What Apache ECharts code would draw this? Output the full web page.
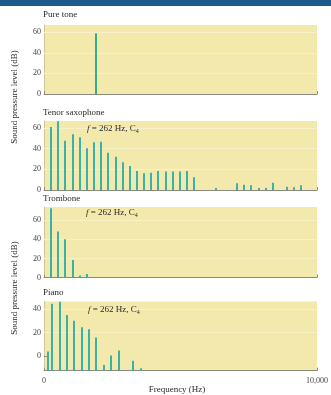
<!DOCTYPE html>
<html><head><meta charset="utf-8">
<script src="https://cdn.jsdelivr.net/npm/echarts@6/dist/echarts.min.js"></script>
<style>html,body{margin:0;padding:0;background:#fff}#c{width:331px;height:395px}</style>
</head><body><div id="c"></div>
<script>
// ---------- data ----------
const panelTitles = ['Pure tone', 'Tenor saxophone', 'Trombone', 'Piano'];
const noteText = '{i|f} = 262 Hz, C{s|4}';
const yAxisTitle = 'Sound pressure level (dB)';
const xAxisTitle = 'Frequency (Hz)';
const xTickValues = [0, 10000];
const xTickLabels = ['0', '10,000'];
const yTicksUpper = [0, 20, 40, 60];
const yTicksPiano = [0, 20, 40];

const pureFreq = [1900];
const pureLevel = [58.9];

const saxFreq = [262, 524, 786, 1048, 1310, 1572, 1834, 2096, 2358, 2620, 2882, 3144, 3406, 3668, 3930,
  4192, 4454, 4716, 4978, 5240, 5502, 6288, 7074, 7336, 7598, 7860, 8122, 8384, 8908, 9170, 9432];
const saxLevel = [61, 66.5, 47.6, 53.8, 50.9, 40.3, 46.1, 46.7, 36, 32.2, 26.8, 23.2, 18.4, 16.1, 16.7,
  18.4, 18, 18, 18, 18.4, 12.3, 1.9, 6.5, 5.1, 4.5, 1.9, 1.9, 7.1, 3.2, 2.6, 4.5];

const tromFreq = [262, 524, 786, 1048, 1310, 1572];
const tromLevel = [72.8, 48.2, 40.2, 18.4, 2.1, 3.7];

const pianoFreq = [140, 280, 570, 830, 1100, 1380, 1650, 1910, 2200, 2460, 2740, 3270, 3550];
const pianoLevel = [3.7, 44.5, 46.5, 35, 30, 24.6, 22.9, 15.7, -7.7, 0.3, 4.6, -4, -10.6];

// ---------- layout / style ----------
const panels = [
  { freq: pureFreq, level: pureLevel, top: 25, height: 69, min: 0, max: 67, ticks: yTicksUpper, color: '#2fae8e' },
  { freq: saxFreq, level: saxLevel, top: 121, height: 69, min: 0, max: 66.7, ticks: yTicksUpper, color: '#38b3a8' },
  { freq: tromFreq, level: tromLevel, top: 207, height: 70.5, min: 0, max: 74, ticks: yTicksUpper, color: '#38b3a8' },
  { freq: pianoFreq, level: pianoLevel, top: 301.5, height: 69.2, min: -12.6, max: 46.5, ticks: yTicksPiano, color: '#38b3a8' }
];
const serif = 'Liberation Serif';
const bg = '#f4e9ad';
const gridLineColor = '#f8f0c6';

function zip(a, b) { return a.map((v, i) => [v, b[i]]); }

function renderBar(color) {
  return function (params, api) {
    const cs = params.coordSys;
    const p = api.coord([api.value(0), api.value(1)]);
    const bottom = cs.y + cs.height;
    return { type: 'rect', shape: { x: Math.round(p[0]) - 1, y: p[1], width: 2, height: bottom - p[1] },
      style: { fill: color } };
  };
}

const grid = [], xAxis = [], yAxis = [], series = [];
panels.forEach((p, i) => {
  const last = i === panels.length - 1;
  grid.push({ left: 44, right: 14, top: p.top, height: p.height, show: true, backgroundColor: bg, borderWidth: 0 });
  xAxis.push({
    gridIndex: i, type: 'value', min: 0, max: 10000,
    axisLine: { show: true, onZero: false, lineStyle: { color: '#8a8a80', width: 1 } },
    axisTick: { show: true, inside: true, length: 3, customValues: xTickValues, lineStyle: { color: '#8a8a80' } },
    axisLabel: { show: last, customValues: xTickValues, margin: 6,
      formatter: v => xTickLabels[xTickValues.indexOf(v)],
      fontFamily: serif, fontSize: 8, color: '#444' },
    splitLine: { show: false }
  });
  yAxis.push({
    gridIndex: i, type: 'value', min: p.min, max: p.max,
    axisLine: { show: true, onZero: false, lineStyle: { color: '#cfc69e', width: 1 } },
    axisTick: { show: true, inside: true, length: 3, customValues: p.ticks, lineStyle: { color: '#8a8a80' } },
    axisLabel: { customValues: p.ticks, margin: 3, fontFamily: serif, fontSize: 8, color: '#444' },
    splitLine: { show: false }
  });
  series.push({
    type: 'custom', xAxisIndex: i, yAxisIndex: i, z: 3, clip: true,
    renderItem: renderBar(p.color),
    data: zip(p.freq, p.level),
    markLine: {
      silent: true, symbol: ['none', 'none'], z: 1, animation: false,
      label: { show: false },
      lineStyle: { color: gridLineColor, width: 1, type: 'solid' },
      data: p.ticks.filter(v => v !== 0).map(v => ({ yAxis: v }))
    }
  });
});

const textStyle = (t, extra) => Object.assign({ text: t, fontFamily: serif, fontSize: 9, fill: '#2a2a2a' }, extra || {});
const graphic = [
  { type: 'rect', left: 0, top: 0, shape: { width: 331, height: 6 }, style: { fill: '#1d5a8e' } },
  { type: 'text', x: 43, y: 15, style: textStyle(panelTitles[0], { verticalAlign: 'middle' }) },
  { type: 'text', x: 43, y: 112.5, style: textStyle(panelTitles[1], { verticalAlign: 'middle' }) },
  { type: 'text', x: 43, y: 199, style: textStyle(panelTitles[2], { verticalAlign: 'middle' }) },
  { type: 'text', x: 43, y: 293, style: textStyle(panelTitles[3], { verticalAlign: 'middle' }) },
  { type: 'text', x: 15, y: 97, rotation: Math.PI / 2, style: textStyle(yAxisTitle, { align: 'center', verticalAlign: 'middle' }) },
  { type: 'text', x: 15, y: 288, rotation: Math.PI / 2, style: textStyle(yAxisTitle, { align: 'center', verticalAlign: 'middle' }) },
  { type: 'text', x: 177, y: 390, style: textStyle(xAxisTitle, { align: 'center', verticalAlign: 'middle' }) }
];
const noteRich = { i: { fontStyle: 'italic', fontFamily: serif, fontSize: 9 }, s: { fontFamily: serif, fontSize: 6, padding: [5, 0, 0, 0] } };
[[87, 128.5], [86, 212.5], [88, 310]].forEach(pos => {
  graphic.push({ type: 'text', x: pos[0], y: pos[1], z: 10,
    style: textStyle(noteText, { verticalAlign: 'middle', rich: noteRich }) });
});

const chart = echarts.init(document.getElementById('c'), null, { renderer: 'canvas' });
chart.setOption({ animation: false, backgroundColor: '#fff', grid, xAxis, yAxis, series, graphic });
</script>
</body></html>
